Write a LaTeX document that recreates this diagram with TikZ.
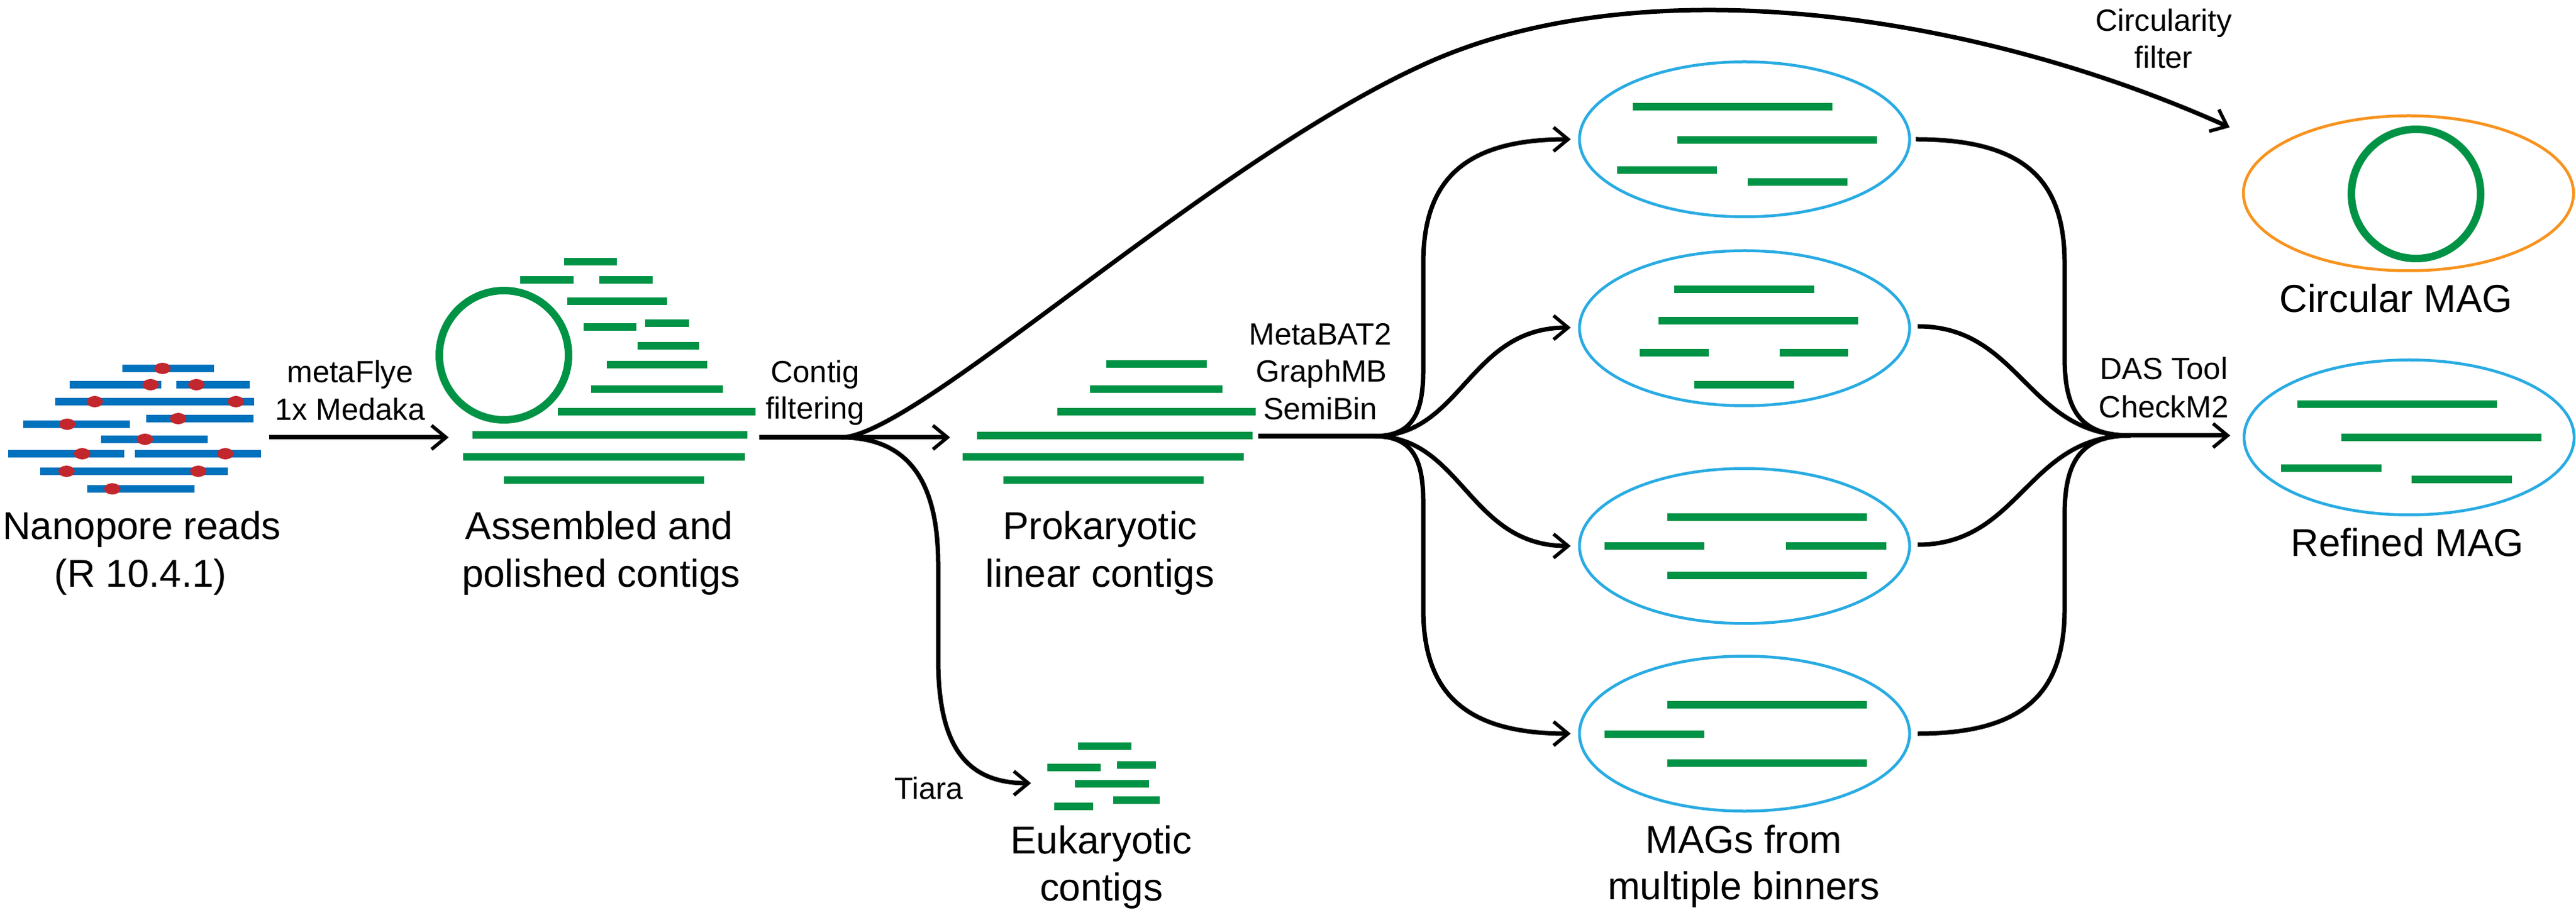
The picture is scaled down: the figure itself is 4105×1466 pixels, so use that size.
\documentclass[tikz,border=0pt]{standalone}
\usepackage{fontspec}
\setmainfont{Liberation Sans}
\usetikzlibrary{arrows.meta,shapes.geometric}
\definecolor{cgreen}{HTML}{009245}
\definecolor{cblue}{HTML}{0071BC}
\definecolor{cred}{HTML}{C1272D}
\definecolor{clight}{HTML}{29ABE2}
\definecolor{corange}{HTML}{F7931E}
\begin{document}
\begin{tikzpicture}[x=0.1mm,y=-0.1mm,
  bigtext/.style={inner sep=0pt,anchor=base,font=\fontsize{17.6}{21}\selectfont},
  smalltext/.style={inner sep=0pt,anchor=base,font=\fontsize{13.9}{17}\selectfont},
  contig/.style={draw=cgreen,line width=1.23mm},
  readbar/.style={draw=cblue,line width=1.23mm},
  dotmark/.style={fill=cred},
  ring/.style={draw=cgreen,line width=1.2mm},
  line/.style={draw=black,line width=0.7mm},
  conn/.style={line,-{Straight Barb[length=2.3mm,width=3.8mm,line width=0.55mm]}},
  magell/.style={ellipse,draw=clight,line width=0.45mm,minimum width=52.6mm,minimum height=24.7mm,inner sep=0pt},
  circell/.style={ellipse,draw=corange,line width=0.45mm,minimum width=52.6mm,minimum height=24.7mm,inner sep=0pt}]
\useasboundingbox (0,0) rectangle (4105,1466);

% ---------- Nanopore reads ----------
\foreach \a/\b/\y in {195/341/587,111/257/613,281/398/613,88/405/640,233/404/667,37/207/676,161/331/700,13/198/723,215/416/723,64/363/751,139/310/779}
  \draw[readbar] (\a,\y) -- (\b,\y);
\foreach \x/\y in {259/587,240/613,313/613,151/640,376/640,284/667,107/676,231/700,131/723,359/723,106/751,316/751,179/779}
  \fill[dotmark] (\x,\y) ellipse [x radius=1.3mm, y radius=0.9mm];
\node[bigtext] (lab-nano1) at (226,860) {Nanopore reads};
\node[bigtext] (lab-nano2) at (224,935) {(R 10.4.1)};

% ---------- Assembled contigs ----------
\draw[ring] (803,566) circle [radius=10.3mm];
\foreach \a/\b/\y in {899/983/417,829/914/446,955/1040/446,904/1063/480,930/1014/521,1028/1098/515,1016/1114/551,967/1127/581,942/1152/620,889/1204/656,753/1191/693,738/1187/728,803/1122/765}
  \draw[contig] (\a,\y) -- (\b,\y);
\node[bigtext] (lab-asm1) at (955,860) {Assembled and};
\node[bigtext] (lab-asm2) at (958,935) {polished contigs};

% ---------- Prokaryotic contigs ----------
\foreach \a/\b/\y in {1763/1923/580,1737/1948/620,1685/2001/656,1557/1996/694,1534/1982/728,1599/1918/765}
  \draw[contig] (\a,\y) -- (\b,\y);
\node[bigtext] (lab-pro1) at (1753,860) {Prokaryotic};
\node[bigtext] (lab-pro2) at (1753,935) {linear contigs};

% ---------- Eukaryotic contigs ----------
\foreach \a/\b/\y in {1718/1803/1189,1669/1754/1223,1780/1842/1219,1713/1831/1249,1774/1848/1275,1680/1742/1285}
  \draw[contig] (\a,\y) -- (\b,\y);
\node[bigtext] (lab-euk1) at (1755,1360) {Eukaryotic};
\node[bigtext] (lab-euk2) at (1755,1435) {contigs};

% ---------- MAGs from binners ----------
\node[magell] (m1) at (2780,222) {};
\node[magell] (m2) at (2780,523) {};
\node[magell] (m3) at (2780,870) {};
\node[magell] (m4) at (2780,1169) {};
\foreach \a/\b/\y in {2602/2920/170,2673/2991/223,2577/2736/271,2785/2944/290,
  2668/2891/461,2643/2961/511,2613/2723/562,2836/2945/562,2700/2859/613,
  2657/2975/824,2557/2716/870,2846/3006/870,2657/2975/917,
  2657/2975/1123,2557/2716/1170,2657/2975/1216}
  \draw[contig] (\a,\y) -- (\b,\y);
\node[bigtext] (lab-mags1) at (2779,1359) {MAGs from};
\node[bigtext] (lab-mags2) at (2779,1433) {multiple binners};

% ---------- Circular MAG ----------
\node[circell] (cm) at (3838,308) {};
\draw[ring] (3850,309) circle [radius=10.3mm];
\node[bigtext] (lab-cm) at (3818,498) {Circular MAG};

% ---------- Refined MAG ----------
\node[magell] (rm) at (3839,697) {};
\foreach \a/\b/\y in {3661/3979/644,3731/4050/697,3635/3795/746,3843/4003/764}
  \draw[contig] (\a,\y) -- (\b,\y);
\node[bigtext] (lab-rm) at (3836,886) {Refined MAG};

% ---------- connector end points ----------
\coordinate (reads-out) at (429,697);
\coordinate (asm-in) at (715,697);
\coordinate (asm-out) at (1210,697);
\coordinate (split1) at (1340,697);
\coordinate (pro-in) at (1514,697);
\coordinate (euk-in) at (1643,1248);
\coordinate (circ-in) at (3553,203);
\coordinate (pro-out) at (2005,695);
\coordinate (split2) at (2190,695);
\coordinate (m1-in) at (2503,222);
\coordinate (m2-in) at (2503,522);
\coordinate (m3-in) at (2503,870);
\coordinate (m4-in) at (2503,1169);
\coordinate (m1-out) at (3053,222);
\coordinate (m2-out) at (3056,520);
\coordinate (m3-out) at (3056,868);
\coordinate (m4-out) at (3056,1169);
\coordinate (merge) at (3395,694);
\coordinate (rm-in) at (3554,694);

% ---------- connectors ----------
\draw[conn] (reads-out) -- (asm-in);
\draw[conn] (asm-out) -- (split1) -- (pro-in);
\draw[conn] (asm-out) -- (split1) .. controls (1460,697) and (1925,257) .. (2275,100)
   .. controls (2625,-57) and (3153,23) .. (circ-in);
\draw[conn] (asm-out) -- (split1) .. controls (1450,697) and (1495,770) .. (1495,900)
   -- (1495,1050) .. controls (1495,1190) and (1540,1248) .. (euk-in);

\draw[conn] (pro-out) -- (split2) .. controls (2250,695) and (2268,660) .. (2268,590)
   -- (2268,420) .. controls (2268,290) and (2330,222) .. (m1-in);
\draw[conn] (pro-out) -- (split2) .. controls (2330,695) and (2340,522) .. (m2-in);
\draw[conn] (pro-out) -- (split2) .. controls (2330,695) and (2340,870) .. (m3-in);
\draw[conn] (pro-out) -- (split2) .. controls (2250,695) and (2268,730) .. (2268,800)
   -- (2268,970) .. controls (2268,1100) and (2330,1169) .. (m4-in);

\draw[line] (m1-out) .. controls (3230,222) and (3290,290) .. (3290,420)
   -- (3290,570) .. controls (3290,660) and (3320,694) .. (merge);
\draw[line] (m2-out) .. controls (3220,520) and (3230,694) .. (merge);
\draw[line] (m3-out) .. controls (3220,868) and (3230,694) .. (merge);
\draw[line] (m4-out) .. controls (3230,1169) and (3290,1100) .. (3290,970)
   -- (3290,820) .. controls (3290,730) and (3320,694) .. (merge);
\draw[conn] (3370,694) -- (rm-in);

% ---------- step labels ----------
\node[smalltext] (lab-flye1) at (558,610) {metaFlye};
\node[smalltext] (lab-flye2) at (558,670) {1x Medaka};
\node[smalltext] (lab-filt1) at (1299,610) {Contig};
\node[smalltext] (lab-filt2) at (1299,668) {filtering};
\node[smalltext] (lab-bin1) at (2104,550) {MetaBAT2};
\node[smalltext] (lab-bin2) at (2106,609) {GraphMB};
\node[smalltext] (lab-bin3) at (2104,669) {SemiBin};
\node[smalltext] (lab-tiara) at (1480,1273) {Tiara};
\node[smalltext] (lab-circ1) at (3448,50) {Circularity};
\node[smalltext] (lab-circ2) at (3448,109) {filter};
\node[smalltext] (lab-das1) at (3448,605) {DAS Tool};
\node[smalltext] (lab-das2) at (3448,666) {CheckM2};
\end{tikzpicture}
\end{document}
